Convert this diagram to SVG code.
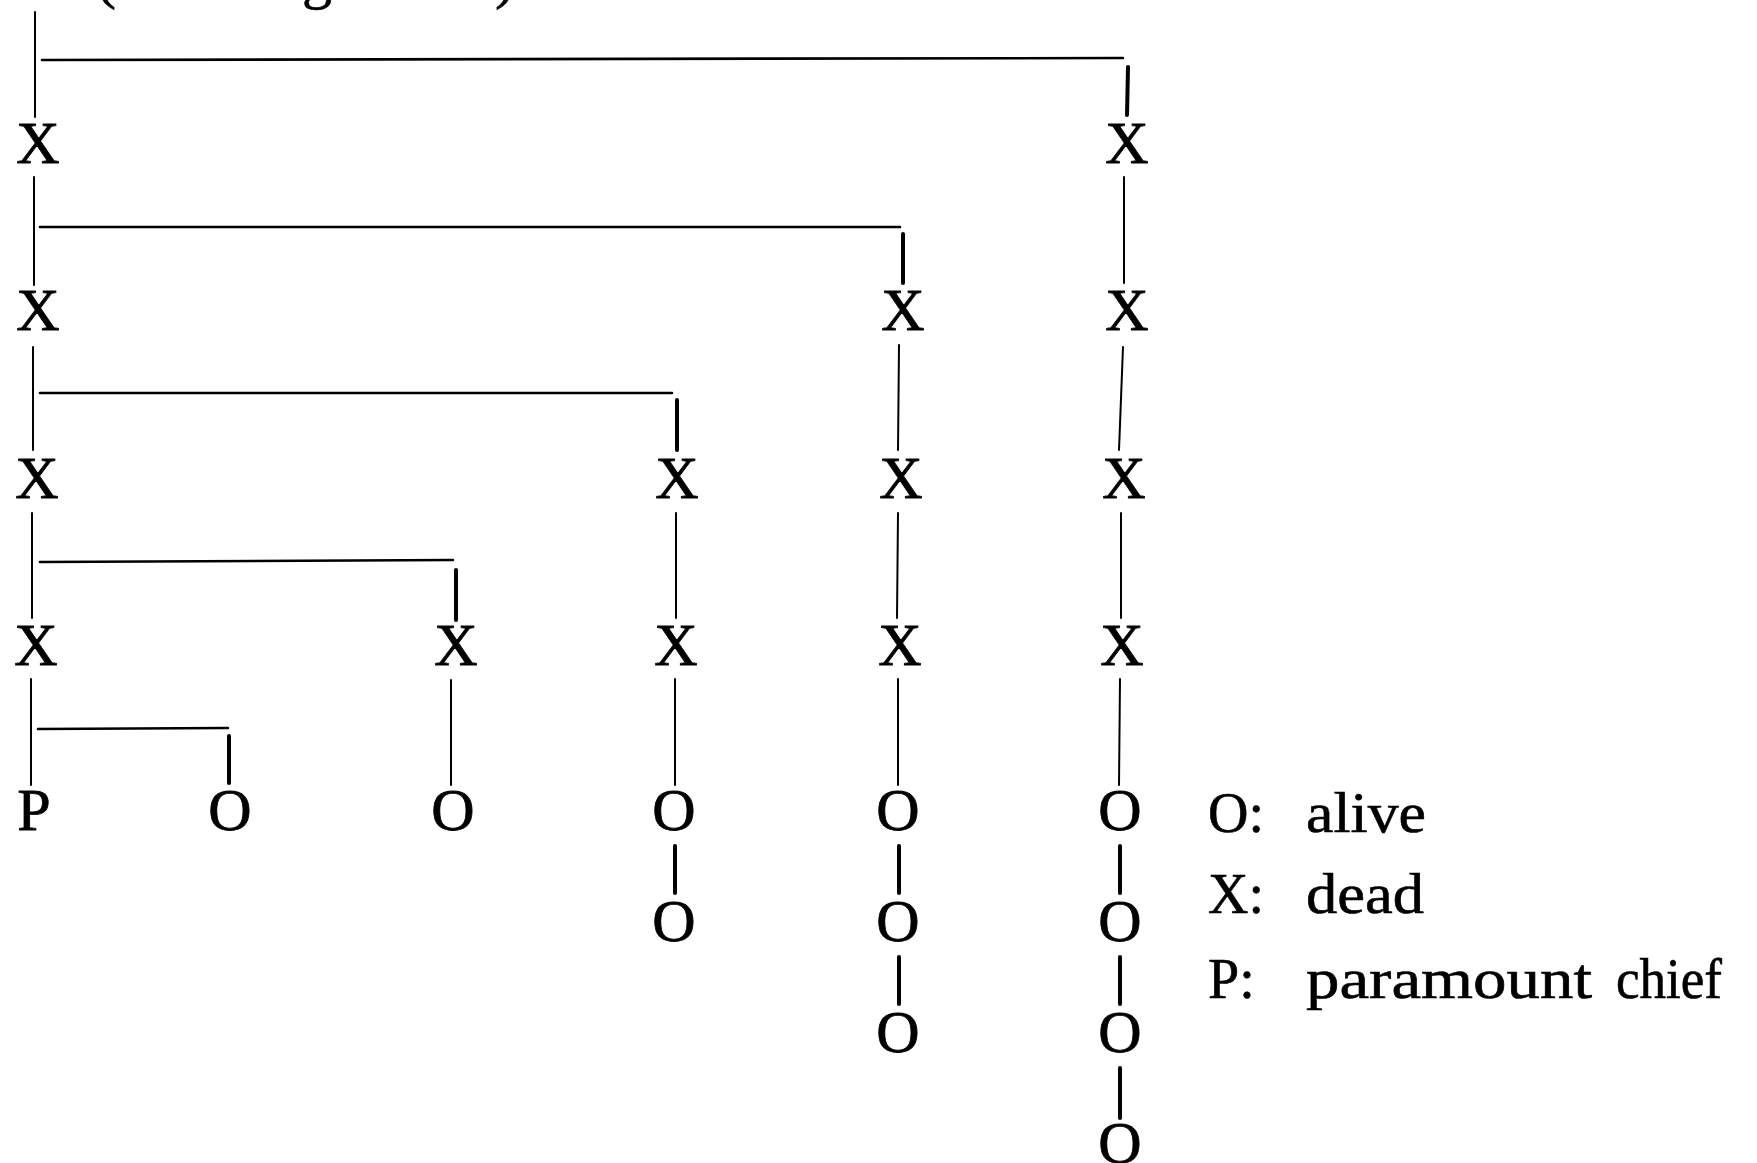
<svg xmlns="http://www.w3.org/2000/svg" width="1757" height="1163" viewBox="0 0 1757 1163">
<style>
.n{font-family:"Liberation Serif","Times New Roman",serif;font-size:60px;fill:#000;stroke:#000;stroke-width:0.8;text-anchor:middle}
.lg{font-family:"Liberation Serif","Times New Roman",serif;font-size:56px;fill:#000;stroke:#000;stroke-width:0.6}
.thin{stroke:#000;stroke-width:2;fill:none;stroke-linecap:round}
.h{stroke:#000;stroke-width:2.6;fill:none;stroke-linecap:round}
.thick{stroke:#000;stroke-width:4;fill:none;stroke-linecap:round}
</style>
<rect width="1757" height="1163" fill="#fff"/>
<text class="lg" style="font-size:60px" y="-3"><tspan x="96">(</tspan><tspan x="302">g</tspan><tspan x="495">)</tspan></text>
<g id="connectors">
  <line class="thin" x1="35" y1="12" x2="35" y2="117"/>
  <line class="thin" x1="34" y1="177" x2="34" y2="285"/>
  <line class="thin" x1="33" y1="347" x2="33" y2="450"/>
  <line class="thin" x1="32" y1="513" x2="32" y2="618"/>
  <line class="thin" x1="31" y1="679" x2="31" y2="785"/>
  <line class="h" x1="42" y1="60" x2="1123" y2="58"/>
  <line class="h" x1="40" y1="227" x2="900" y2="227"/>
  <line class="h" x1="40" y1="393" x2="672" y2="393"/>
  <line class="h" x1="40" y1="562" x2="453" y2="560"/>
  <line class="h" x1="38" y1="729" x2="228" y2="728"/>
  <line class="thick" x1="1128" y1="67" x2="1127" y2="115"/>
  <line class="thick" x1="903" y1="234" x2="903" y2="283"/>
  <line class="thick" x1="677" y1="400" x2="677" y2="450"/>
  <line class="thick" x1="456" y1="570" x2="456" y2="620"/>
  <line class="thick" x1="229" y1="736" x2="229" y2="783"/>
  <line class="thin" x1="1124" y1="177" x2="1124" y2="283"/>
  <line class="thin" x1="1123" y1="347" x2="1119" y2="450"/>
  <line class="thin" x1="1121" y1="513" x2="1121" y2="618"/>
  <line class="thin" x1="1120" y1="679" x2="1119" y2="785"/>
  <line class="thin" x1="899" y1="345" x2="898" y2="450"/>
  <line class="thin" x1="898" y1="513" x2="897" y2="618"/>
  <line class="thin" x1="898" y1="679" x2="898" y2="785"/>
  <line class="thin" x1="676" y1="513" x2="676" y2="618"/>
  <line class="thin" x1="675" y1="679" x2="675" y2="785"/>
  <line class="thin" x1="451" y1="680" x2="451" y2="785"/>
  <line class="thick" x1="675" y1="846" x2="675" y2="893"/>
  <line class="thick" x1="899" y1="846" x2="899" y2="893"/>
  <line class="thick" x1="899" y1="957" x2="899" y2="1004"/>
  <line class="thick" x1="1120" y1="846" x2="1120" y2="893"/>
  <line class="thick" x1="1120" y1="957" x2="1120" y2="1004"/>
  <line class="thick" x1="1120" y1="1068" x2="1120" y2="1118"/>
</g>
<g id="A1"><text class="n" x="38" y="163">X</text></g>
<g id="E1"><text class="n" x="1127" y="163">X</text></g>
<g id="A2"><text class="n" x="38" y="330">X</text></g>
<g id="D2"><text class="n" x="903" y="330">X</text></g>
<g id="E2"><text class="n" x="1127" y="330">X</text></g>
<g id="A3"><text class="n" x="37" y="498">X</text></g>
<g id="C3"><text class="n" x="677" y="498">X</text></g>
<g id="D3"><text class="n" x="901" y="498">X</text></g>
<g id="E3"><text class="n" x="1124" y="498">X</text></g>
<g id="A4"><text class="n" x="36" y="665">X</text></g>
<g id="B4"><text class="n" x="456" y="665">X</text></g>
<g id="C4"><text class="n" x="676" y="665">X</text></g>
<g id="D4"><text class="n" x="900" y="665">X</text></g>
<g id="E4"><text class="n" x="1122" y="665">X</text></g>
<g id="P5"><text class="n" x="34" y="830">P</text></g>
<g id="F5"><text class="n" x="230" y="830">O</text></g>
<g id="B5"><text class="n" x="453" y="830">O</text></g>
<g id="C5"><text class="n" x="674" y="830">O</text></g>
<g id="D5"><text class="n" x="898" y="830">O</text></g>
<g id="E5"><text class="n" x="1120" y="830">O</text></g>
<g id="C6"><text class="n" x="674" y="941">O</text></g>
<g id="D6"><text class="n" x="898" y="941">O</text></g>
<g id="E6"><text class="n" x="1120" y="941">O</text></g>
<g id="D7"><text class="n" x="898" y="1052">O</text></g>
<g id="E7"><text class="n" x="1120" y="1052">O</text></g>
<g id="E8"><text class="n" x="1120" y="1163">O</text></g>
<g id="legend">
  <text class="lg" y="832"><tspan x="1208">O:</tspan><tspan x="1306" textLength="120" lengthAdjust="spacingAndGlyphs">alive</tspan></text>
  <text class="lg" y="913"><tspan x="1208">X:</tspan><tspan x="1306" textLength="118" lengthAdjust="spacingAndGlyphs">dead</tspan></text>
  <text class="lg" y="998"><tspan x="1208">P:</tspan><tspan x="1306" textLength="286" lengthAdjust="spacingAndGlyphs">paramount</tspan><tspan x="1616" textLength="106" lengthAdjust="spacingAndGlyphs">chief</tspan></text>
</g>
</svg>
